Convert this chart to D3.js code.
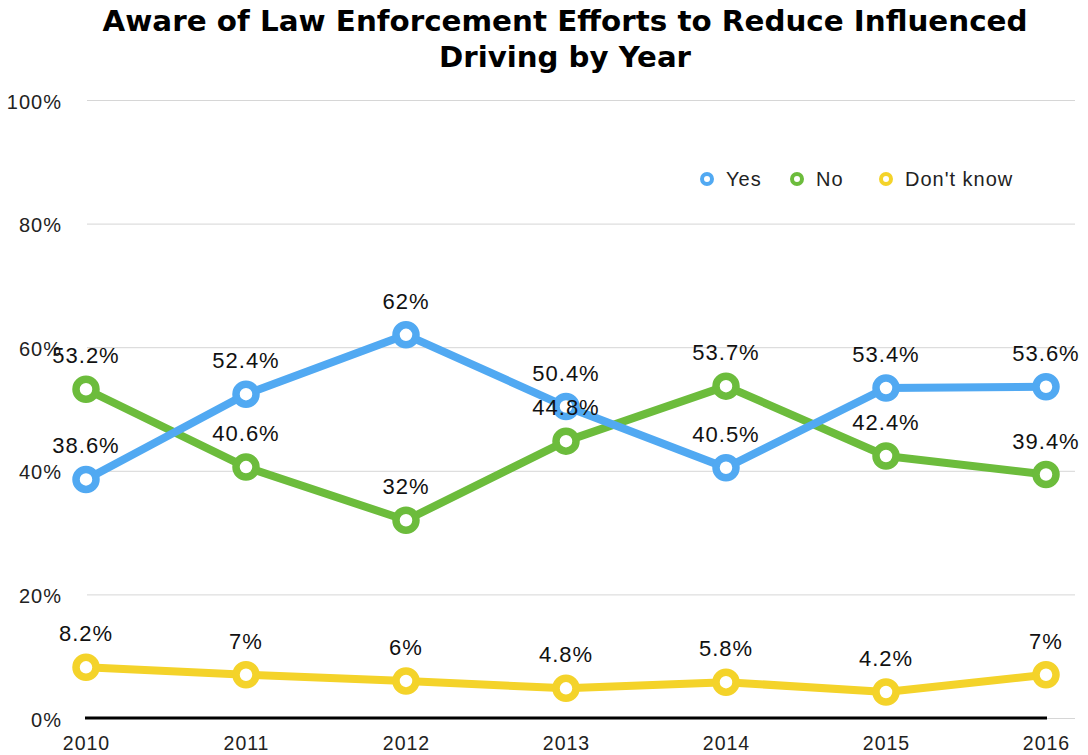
<!DOCTYPE html>
<html>
<head>
<meta charset="utf-8">
<script src="https://cdn.jsdelivr.net/npm/d3@7"></script>
<style>
  html, body { margin: 0; padding: 0; background: #fff; }
  svg { display: block; }
</style>
</head>
<body>
<svg id="chart" width="1088" height="755"></svg>
<script>
const titleLines = ["Aware of Law Enforcement Efforts to Reduce Influenced", "Driving by Year"];
const years = ["2010", "2011", "2012", "2013", "2014", "2015", "2016"];
const yesValues = [38.6, 52.4, 62, 50.4, 40.5, 53.4, 53.6];
const noValues = [53.2, 40.6, 32, 44.8, 53.7, 42.4, 39.4];
const dontKnowValues = [8.2, 7, 6, 4.8, 5.8, 4.2, 7];
const seriesNames = ["Yes", "No", "Don't know"];
const yTicks = [0, 20, 40, 60, 80, 100];

const colors = ["#51a9f2", "#6cbc3c", "#f4d32a"];
const seriesValues = [yesValues, noValues, dontKnowValues];

const svg = d3.select("#chart");
const font = "'Liberation Sans', Arial, Helvetica, sans-serif";

const x = d3.scalePoint().domain(years).range([86, 1046]);
const y = d3.scaleLinear().domain([0, 100]).range([718, 100]);

// Title
const titleLens = [925, 252];
svg.selectAll("text.title").data(titleLines).enter().append("text")
  .attr("class", "title")
  .attr("x", 565).attr("y", (d, i) => 31 + i * 36)
  .attr("text-anchor", "middle")
  .attr("textLength", (d, i) => titleLens[i])
  .attr("lengthAdjust", "spacingAndGlyphs")
  .style("font-family", "'DejaVu Sans', Verdana, sans-serif")
  .style("font-weight", "bold")
  .style("font-size", "28px")
  .style("fill", "#000")
  .text(d => d);

// Y axis with gridlines
const yAxis = svg.append("g").attr("transform", "translate(87,0)")
  .call(d3.axisLeft(y).tickValues(yTicks).tickFormat(d => d + "%")
    .tickSize(-(1075 - 87)).tickPadding(25));
yAxis.select(".domain").remove();
yAxis.selectAll(".tick line").attr("stroke", "#d6d6d6").attr("stroke-width", 1);
yAxis.selectAll(".tick text")
  .style("font-family", font).style("font-size", "20px")
  .style("letter-spacing", "1px").style("fill", "#222")
  .attr("dy", "0.4em");

// X axis
const xAxis = svg.append("g").attr("transform", "translate(0,718)")
  .call(d3.axisBottom(x).tickSize(0).tickPadding(18));
xAxis.select(".domain").remove();
xAxis.selectAll(".tick text")
  .style("font-family", font).style("font-size", "19.5px")
  .style("letter-spacing", "1px").style("fill", "#222");

// Baseline
svg.append("line")
  .attr("x1", 85).attr("x2", 1047)
  .attr("y1", y(0)).attr("y2", y(0))
  .attr("stroke", "#000").attr("stroke-width", 3);

const line = d3.line().x((d, i) => x(years[i])).y(d => y(d));

// Draw series in order: Don't know, No, Yes (Yes on top)
const order = [2, 1, 0];
order.forEach(s => {
  const g = svg.append("g");
  g.append("path")
    .datum(seriesValues[s])
    .attr("d", line)
    .attr("fill", "none")
    .attr("stroke", colors[s])
    .attr("stroke-width", 8)
    .attr("stroke-linejoin", "round");
  g.selectAll("circle").data(seriesValues[s]).enter().append("circle")
    .attr("cx", (d, i) => x(years[i]))
    .attr("cy", d => y(d))
    .attr("r", 10)
    .attr("fill", "#fff")
    .attr("stroke", colors[s])
    .attr("stroke-width", 7.5);
});

// Data labels
order.forEach(s => {
  svg.append("g").selectAll("text").data(seriesValues[s]).enter().append("text")
    .attr("x", (d, i) => x(years[i]))
    .attr("y", d => y(d) - 26)
    .attr("text-anchor", "middle")
    .style("font-family", font)
    .style("font-size", "22px")
    .style("letter-spacing", "1px")
    .style("fill", "#111")
    .text(d => d + "%");
});

// Legend
const legendX = [707, 797, 886];
const legend = svg.append("g");
seriesNames.forEach((name, i) => {
  legend.append("circle")
    .attr("cx", legendX[i]).attr("cy", 179).attr("r", 5)
    .attr("fill", "#fff").attr("stroke", colors[i]).attr("stroke-width", 4);
  legend.append("text")
    .attr("x", legendX[i] + 19).attr("y", 186)
    .style("font-family", font).style("font-size", "20px")
    .style("letter-spacing", "1px").style("fill", "#222")
    .text(name);
});
</script>
</body>
</html>
